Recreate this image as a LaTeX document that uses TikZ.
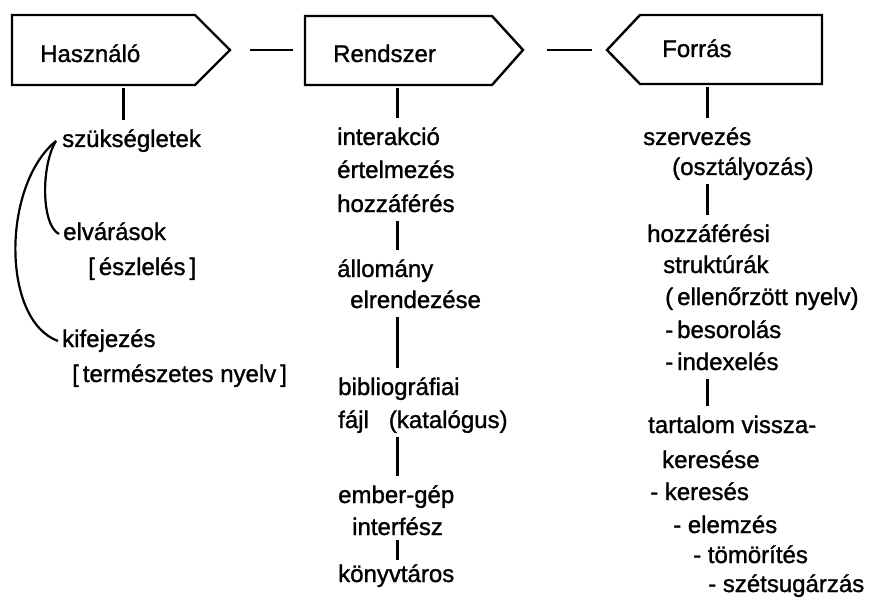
\documentclass[tikz,border=0pt]{standalone}
\usepackage{fontspec}
\setmainfont{Liberation Sans}
\newfontfamily\lettering{Liberation Sans}[FakeBold=1.2]
\begin{document}
\begin{tikzpicture}[x=1pt, y=-1pt,
		box/.style={line width=2.4pt, line join=miter},
		link/.style={line width=2.4pt},
		stub/.style={line width=3pt, shorten <=3pt, shorten >=9pt},
		arcline/.style={line width=2.2pt},
		txt/.style={anchor=base west, inner sep=0pt, text height=18pt, text depth=6pt, font=\lettering\fontsize{24}{28}\selectfont}]

		\useasboundingbox[fill=white] (0,0) rectangle (881,599);

		% the three boxes
		\draw[box] (12,15) -- (195,15) -- (230,50) -- (195,85) -- (12,85) -- cycle;
		\draw[box] (305,16) -- (492,16) -- (523,50) -- (492,85) -- (305,85) -- cycle;
		\draw[box] (822,15) -- (640,15) -- (607,50) -- (640,84) -- (822,84) -- cycle;

		\node[txt] (hasznalo) at (40,62) {Használó};
		\node[txt] (rendszer) at (333,62) {Rendszer};
		\node[txt] (forras) at (662,57) {Forrás};

		\coordinate (hasznalo-e) at (230,50);
		\coordinate (rendszer-w) at (305,50);
		\coordinate (rendszer-e) at (523,50);
		\coordinate (forras-w) at (607,50);
		\coordinate (hasznalo-b) at (123,85);
		\coordinate (rendszer-b) at (397,85);
		\coordinate (forras-b) at (707,84);

		\draw[link, shorten <=20pt, shorten >=12pt] (hasznalo-e) -- (rendszer-w);
		\draw[link, shorten <=24pt, shorten >=15pt] (rendszer-e) -- (forras-w);

		% left column
		\node[txt] (szuk) at (62,147) {szükségletek};
		\node[txt] (elvar) at (63,240) {elvárások};
		\node[txt] (eszlel) at (88,275) {[\,észlelés\,]};
		\node[txt] (kifej) at (62,347) {kifejezés};
		\node[txt] (termnyelv) at (72,382) {[\,természetes nyelv\,]};

		\draw[stub] (hasznalo-b) -- (szuk.north -| hasznalo-b);
		\draw[arcline] ([xshift=-6pt]szuk.west) .. controls +(-15,24) and +(-18,-9) .. ([xshift=-4pt]elvar.west);
		\draw[arcline] ([xshift=-6pt]szuk.west) .. controls +(-54,44) and +(-57,-21) .. ([xshift=-4pt]kifej.west);

		% middle column
		\node[txt] (interakc) at (337,145) {interakció};
		\node[txt] (ertelm) at (337,178) {értelmezés};
		\node[txt] (hozzaf) at (337,212) {hozzáférés};
		\node[txt] (allomany) at (337,277) {állomány};
		\node[txt] (elrend) at (350,308) {elrendezése};
		\node[txt] (biblio) at (338,395) {bibliográfiai};
		\node[txt] (fajl) at (338,428) {fájl\hspace{20pt}(katalógus)};
		\node[txt] (embergep) at (338,503) {ember-gép};
		\node[txt] (interf) at (352,535) {interfész};
		\node[txt] (konyvt) at (338,582) {könyvtáros};

		\draw[stub] (rendszer-b) -- (interakc.north -| rendszer-b);
		\draw[stub] (hozzaf.south -| rendszer-b) -- (allomany.north -| rendszer-b);
		\draw[stub] (elrend.south -| rendszer-b) -- (biblio.north -| rendszer-b);
		\draw[stub] (fajl.south -| rendszer-b) -- (embergep.north -| rendszer-b);
		\draw[stub, shorten <=-1pt, shorten >=4pt] (interf.south -| rendszer-b) -- (konyvt.north -| rendszer-b);

		% right column
		\node[txt] (szervez) at (643,145) {szervezés};
		\node[txt] (osztaly) at (672,175) {(osztályozás)};
		\node[txt] (hozzstr) at (647,242) {hozzáférési};
		\node[txt] (strukt) at (663,273) {struktúrák};
		\node[txt] (ellen) at (665,305) {(\,ellenőrzött nyelv)};
		\node[txt] (besor) at (665,338) {-\,besorolás};
		\node[txt] (index) at (665,370) {-\,indexelés};
		\node[txt] (tartalom) at (648,433) {tartalom vissza-};
		\node[txt] (keresese) at (662,468) {keresése};
		\node[txt] (keres) at (650,500) {- keresés};
		\node[txt] (elemz) at (673,533) {- elemzés};
		\node[txt] (tomor) at (693,563) {- tömörítés};
		\node[txt] (szets) at (708,592) {- szétsugárzás};

		\draw[stub] (forras-b) -- (szervez.north -| forras-b);
		\draw[stub] (osztaly.south -| forras-b) -- (hozzstr.north -| forras-b);
		\draw[stub] (index.south -| forras-b) -- (tartalom.north -| forras-b);
	\end{tikzpicture}
\end{document}
